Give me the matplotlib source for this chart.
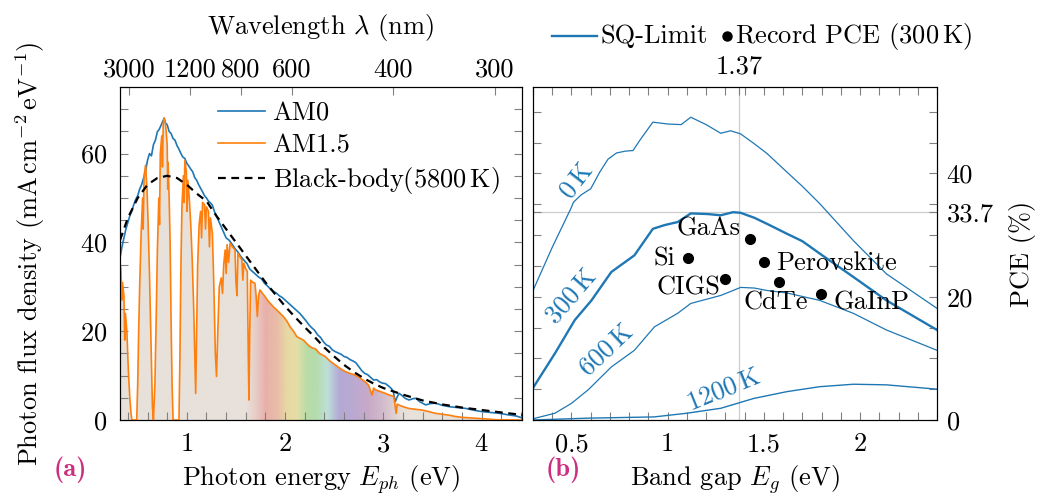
import numpy as np
import matplotlib
import matplotlib.pyplot as plt
from matplotlib.patches import Polygon
from matplotlib.lines import Line2D
from matplotlib.ticker import MultipleLocator, FixedLocator

plt.rcParams['font.family'] = 'cmr10'
plt.rcParams['mathtext.fontset'] = 'cm'
plt.rcParams['axes.unicode_minus'] = False
plt.rcParams['axes.formatter.use_mathtext'] = True
plt.rcParams['font.size'] = 19

blue = '#1f77b4'
orange = '#ff7f0e'
pink = '#cc2f7f'

# ---- panel (a): solar spectra, photon energy (eV) vs photon flux
am0_e = [0.32, 0.34, 0.36, 0.38, 0.40, 0.42, 0.44, 0.46, 0.48, 0.50, 0.52, 0.54, 0.56, 0.58,
         0.60, 0.62, 0.64, 0.66, 0.68, 0.70, 0.72, 0.74, 0.76, 0.77, 0.78, 0.80, 0.82, 0.84,
         0.86, 0.88, 0.90, 0.92, 0.94, 0.96, 0.98, 1.00, 1.02, 1.04, 1.06, 1.08, 1.10, 1.12,
         1.14, 1.16, 1.18, 1.20, 1.22, 1.24, 1.26, 1.28, 1.30, 1.32, 1.34, 1.36, 1.38, 1.40,
         1.43, 1.46, 1.49, 1.52, 1.55, 1.58, 1.61, 1.64, 1.67, 1.70, 1.73, 1.76, 1.79, 1.82,
         1.85, 1.88, 1.91, 1.94, 1.97, 2.00, 2.03, 2.06, 2.09, 2.12, 2.15, 2.18, 2.21, 2.24,
         2.27, 2.30, 2.33, 2.36, 2.39, 2.42, 2.45, 2.48, 2.51, 2.54, 2.57, 2.60, 2.63, 2.66,
         2.69, 2.72, 2.75, 2.78, 2.81, 2.84, 2.87, 2.90, 2.93, 2.96, 2.99, 3.02, 3.05, 3.08,
         3.10, 3.12, 3.14, 3.16, 3.19, 3.22, 3.26, 3.30, 3.33, 3.37, 3.43, 3.48, 3.53, 3.60,
         3.67, 3.75, 3.84, 3.92, 4.00, 4.09, 4.18, 4.26, 4.35, 4.41]
am0_v = [36.5, 39.0, 41.0, 43.0, 44.5, 46.0, 47.0, 48.5, 49.7, 50.5, 52.0, 53.0, 54.5, 56.0,
         58.5, 60.0, 59.5, 62.0, 63.0, 64.9, 65.5, 66.5, 67.5, 68.0, 67.0, 66.5, 65.0, 64.5,
         63.4, 63.0, 61.8, 61.0, 60.0, 59.2, 58.9, 57.8, 57.2, 56.5, 55.9, 54.6, 54.0, 53.0,
         52.2, 51.4, 50.5, 50.0, 49.3, 48.9, 48.4, 47.0, 46.0, 45.0, 44.0, 43.0, 42.0, 41.0,
         40.5, 39.6, 38.6, 37.8, 36.8, 36.0, 35.3, 34.0, 33.4, 32.8, 32.2, 31.8, 30.8, 30.2,
         29.5, 29.0, 28.6, 28.0, 27.6, 27.0, 26.4, 25.8, 25.2, 24.6, 24.0, 23.2, 22.4, 21.5,
         20.8, 20.2, 19.2, 18.6, 17.6, 16.9, 16.6, 15.8, 15.4, 15.1, 14.8, 14.3, 14.1, 13.6,
         13.3, 12.9, 12.0, 11.1, 10.5, 10.2, 9.6, 9.0, 9.1, 8.6, 8.3, 8.2, 7.7, 7.1,
         6.5, 4.1, 5.2, 6.0, 5.5, 4.9, 4.5, 4.8, 4.9, 4.1, 3.4, 3.7, 3.8, 3.3,
         3.0, 2.8, 2.6, 2.2, 1.9, 1.7, 1.5, 1.2, 0.9, 0.5]

am15_e = [0.316, 0.33, 0.338, 0.345, 0.36, 0.368, 0.375, 0.39, 0.40, 0.41, 0.42, 0.43, 0.44,
          0.49, 0.50, 0.51, 0.52, 0.535, 0.55, 0.556, 0.565, 0.58, 0.595, 0.605, 0.62, 0.635,
          0.65, 0.66, 0.675, 0.69, 0.70, 0.715, 0.722, 0.73, 0.745, 0.752, 0.76, 0.77, 0.78,
          0.79, 0.80, 0.806, 0.81, 0.82, 0.83, 0.84, 0.85, 0.86, 0.92, 0.93, 0.94, 0.95, 0.965,
          0.972, 0.98, 0.995, 1.002, 1.01, 1.025, 1.04, 1.055, 1.07, 1.08, 1.09, 1.10, 1.11,
          1.125, 1.14, 1.15, 1.16, 1.18, 1.19, 1.20, 1.22, 1.23, 1.24, 1.26, 1.275, 1.29,
          1.302, 1.315, 1.33, 1.35, 1.363, 1.375, 1.39, 1.40, 1.41, 1.425, 1.44, 1.465, 1.49,
          1.50, 1.51, 1.52, 1.54, 1.56, 1.57, 1.58, 1.60, 1.615, 1.625, 1.632, 1.64, 1.649,
          1.67, 1.693, 1.705, 1.717, 1.73, 1.744, 1.77, 1.795, 1.82, 1.846, 1.88, 1.914, 1.95,
          1.982, 2.02, 2.05, 2.085, 2.118, 2.15, 2.186, 2.22, 2.254, 2.28, 2.31, 2.35, 2.408,
          2.46, 2.51, 2.56, 2.612, 2.66, 2.714, 2.77, 2.816, 2.85, 2.884, 2.90, 2.918, 2.97,
          3.02, 3.06, 3.105, 3.12, 3.13, 3.14, 3.156, 3.20, 3.258, 3.33, 3.394, 3.46, 3.53,
          3.60, 3.666, 3.73, 3.80, 3.87, 3.939, 4.00, 4.07, 4.15, 4.41]
am15_v = [35.7, 34.0, 27.0, 31.0, 28.0, 18.0, 24.0, 20.0, 14.0, 9.0, 5.0, 2.0, 0.0,
          0.0, 8.0, 20.0, 30.0, 42.0, 50.0, 43.0, 55.0, 57.4, 52.0, 45.0, 33.0, 18.0,
          3.0, 0.0, 8.0, 25.0, 38.0, 50.0, 44.0, 60.0, 64.0, 57.0, 67.0, 68.0, 67.0,
          65.0, 62.0, 52.0, 58.0, 50.0, 40.0, 22.0, 8.0, 0.0, 0.0, 15.0, 35.0, 48.0, 55.0,
          49.0, 58.5, 56.0, 47.0, 54.0, 50.0, 44.0, 36.0, 25.0, 15.0, 6.0, 20.0, 35.0,
          44.0, 47.0, 41.0, 49.0, 48.5, 43.0, 48.0, 47.0, 39.0, 45.5, 42.0, 30.0, 15.0,
          9.8, 20.0, 30.0, 32.0, 28.5, 35.0, 38.3, 33.0, 39.5, 35.5, 39.8, 39.0, 38.3,
          31.0, 28.0, 37.5, 36.8, 36.0, 31.5, 35.3, 34.0, 33.5, 15.0, 4.5, 20.0, 31.5,
          31.0, 30.8, 28.0, 23.3, 28.0, 29.3, 28.5, 27.8, 27.0, 26.3, 25.5, 24.8, 24.0,
          23.3, 22.2, 21.0, 20.0, 18.8, 18.4, 18.0, 17.2, 16.5, 16.2, 16.0, 15.0, 14.3,
          13.2, 12.4, 11.6, 10.9, 10.5, 10.1, 9.3, 8.6, 7.8, 5.6, 7.2, 6.8, 6.4,
          6.0, 5.6, 5.3, 3.0, 1.5, 3.6, 3.4, 3.0, 2.6, 2.4, 2.25, 1.9, 1.5,
          1.3, 1.1, 0.8, 0.6, 0.5, 0.4, 0.3, 0.2, 0.05, 0.0]

bb_e = [0.32, 0.4, 0.5, 0.6, 0.7, 0.8, 0.9, 1.0, 1.1, 1.2, 1.3, 1.4, 1.5, 1.6, 1.7, 1.8,
        1.9, 2.0, 2.1, 2.2, 2.3, 2.4, 2.5, 2.6, 2.7, 2.8, 2.9, 3.0, 3.2, 3.4, 3.6, 3.8,
        4.0, 4.2, 4.41]
bb_v = [40.5, 45.5, 50.0, 53.0, 54.5, 55.0, 54.5, 53.0, 51.0, 49.3, 46.0, 43.0, 40.0, 37.0,
        34.0, 31.0, 28.3, 25.6, 23.2, 20.9, 18.7, 16.3, 14.3, 12.4, 10.8, 9.4, 8.2, 7.2,
        5.7, 4.4, 3.5, 2.8, 2.25, 1.7, 1.15]

wavelengths = [3000, 1200, 800, 600, 400, 300]

# colour band under the AM1.5 curve (visible range)
band_e = [1.60, 1.70, 1.80, 1.92, 2.02, 2.12, 2.22, 2.32, 2.43, 2.55, 2.68, 2.85, 3.00, 3.20]
band_c = ['#e7e1da', '#e8cdc6', '#e8b0aa', '#e8bca8', '#e8d8a4', '#e6dea6', '#b9dca6',
          '#b5dcae', '#bde0d8', '#b4aad6', '#b9a9d2', '#c8aac8', '#d3bccc', '#e7e1da']

# ---- panel (b): SQ limit, band gap (eV) vs PCE (%)
eg_0k = [0.30, 0.40, 0.50, 0.51, 0.55, 0.60, 0.647, 0.69, 0.734, 0.78, 0.82, 0.854, 0.923,
         1.00, 1.07, 1.12, 1.20, 1.276, 1.327, 1.379, 1.45, 1.517, 1.62, 1.70, 1.79, 1.965,
         2.137, 2.40]
pce_0k = [21.0, 28.0, 34.5, 35.3, 36.5, 37.5, 40.2, 42.3, 43.3, 43.6, 43.7, 45.3, 48.3,
          48.0, 47.9, 49.1, 47.9, 46.5, 46.9, 46.4, 44.8, 43.2, 40.2, 37.9, 35.1, 29.1,
          23.7, 18.1]
eg_300k = [0.30, 0.414, 0.517, 0.604, 0.707, 0.827, 0.923, 0.983, 1.052, 1.12, 1.207, 1.276,
           1.34, 1.379, 1.45, 1.517, 1.62, 1.70, 1.79, 1.965, 2.137, 2.40]
pce_300k = [5.2, 10.8, 16.2, 19.4, 24.0, 26.7, 31.0, 31.6, 32.1, 33.5, 33.4, 33.2,
            33.7, 33.6, 32.8, 31.8, 30.2, 29.0, 27.0, 23.2, 19.4, 14.6]
eg_600k = [0.30, 0.414, 0.50, 0.587, 0.707, 0.827, 0.931, 1.052, 1.12, 1.276, 1.34, 1.379,
           1.45, 1.517, 1.62, 1.79, 1.965, 2.137, 2.40]
pce_600k = [0.2, 1.1, 2.7, 4.9, 8.6, 11.3, 15.1, 17.3, 18.9, 20.2, 21.0, 21.5,
            21.4, 21.0, 20.6, 19.4, 17.3, 14.6, 11.3]
eg_1200k = [0.30, 0.587, 0.93, 1.10, 1.276, 1.448, 1.62, 1.79, 1.965, 2.137, 2.40]
pce_1200k = [0.0, 0.3, 0.5, 1.1, 1.9, 3.5, 4.6, 5.4, 5.8, 5.7, 5.0]

rec_names = ['Si', 'GaAs', 'Perovskite', 'CIGS', 'CdTe', 'GaInP']
rec_eg = [1.108, 1.427, 1.50, 1.297, 1.577, 1.798]
rec_pce = [26.3, 29.3, 25.7, 22.8, 22.3, 20.5]

W, H = 1039, 496
fig = plt.figure(figsize=(W / 100, H / 100), dpi=100)
ax1 = fig.add_axes([120 / W, 76 / H, 402 / W, 333 / H])
ax2 = fig.add_axes([533 / W, 76 / H, 404 / W, 333 / H])

# ---------------- (a)
xmin, xmax, ymax = 0.32, 4.41, 75
grid = np.linspace(xmin, xmax, 1000)
rgb = np.array([matplotlib.colors.to_rgb(c) for c in band_c])
img = np.stack([np.interp(grid, band_e, rgb[:, i]) for i in range(3)], axis=-1)[None, :, :]
im = ax1.imshow(img, extent=(xmin, xmax, 0, ymax), aspect='auto', origin='lower',
                zorder=1, interpolation='bilinear')
verts = np.column_stack([am15_e + [am15_e[-1], am15_e[0]], am15_v + [0, 0]])
poly = Polygon(verts, closed=True, facecolor='none', edgecolor='none', transform=ax1.transData)
ax1.add_patch(poly)
im.set_clip_path(poly)

ax1.plot(am0_e, am0_v, color=blue, lw=1.2, label='AM0', zorder=3)
ax1.plot(am15_e, am15_v, color=orange, lw=1.2, label='AM1.5', zorder=4)
ax1.plot(bb_e, bb_v, color='k', lw=1.6, ls=(0, (3.5, 2.5)), label=r'Black-body(5800$\,$K)', zorder=5)

ax1.set_xlim(xmin, xmax)
ax1.set_ylim(0, ymax)
ax1.xaxis.set_major_locator(FixedLocator([1, 2, 3, 4]))
ax1.xaxis.set_minor_locator(MultipleLocator(0.2))
ax1.yaxis.set_major_locator(FixedLocator([0, 20, 40, 60]))
ax1.yaxis.set_minor_locator(MultipleLocator(5))
ax1.tick_params(which='both', direction='in', length=6, width=0.8, color='0.5',
                right=True, top=False)
ax1.tick_params(axis='x', pad=9)
ax1.tick_params(axis='y', pad=9)
ax1.set_xlabel(r'Photon energy $E_{ph}$ (eV)', labelpad=5)
ax1.set_ylabel(r'Photon flux density $(\mathrm{mA\,cm^{-2}\,eV^{-1}})$', labelpad=24)

ax1t = ax1.twiny()
ax1t.set_xlim(xmin, xmax)
ax1t.set_xticks([1239.84 / w for w in wavelengths])
ax1t.set_xticklabels([str(w) for w in wavelengths])
ax1t.tick_params(direction='in', length=6, width=0.8, color='0.5', pad=4)
ax1t.set_xlabel(r'Wavelength $\lambda$ (nm)', labelpad=17)

ax1.legend(loc='upper left', bbox_to_anchor=(0.245, 0.955), frameon=False, borderpad=0,
           borderaxespad=0, handlelength=1.75, handletextpad=0.3, labelspacing=0.3)

# ---------------- (b)
ax2.axvline(1.37, color='0.8', lw=0.9, zorder=1)
ax2.axhline(33.7, color='0.8', lw=0.9, zorder=1)
ax2.plot(eg_0k, pce_0k, color=blue, lw=0.9)
ax2.plot(eg_300k, pce_300k, color=blue, lw=1.7)
ax2.plot(eg_600k, pce_600k, color=blue, lw=0.9)
ax2.plot(eg_1200k, pce_1200k, color=blue, lw=1.0)
ax2.plot(rec_eg, rec_pce, 'o', color='k', ms=7, zorder=5)

curve_labels = [('0$\\,$K', 0.524, 38.8, 52), ('300$\\,$K', 0.50, 20.0, 49),
                ('600$\\,$K', 0.68, 11.4, 43), ('1200$\\,$K', 1.29, 4.9, 22)]
for txt, ex, py, rot in curve_labels:
    ax2.text(ex, py, txt, color=blue, rotation=rot, ha='center', va='center',
             rotation_mode='anchor')

rec_label_pos = {'Si': (1.041, 26.1, 'right'), 'GaAs': (1.212, 31.0, 'center'),
                 'Perovskite': (1.565, 25.4, 'left'), 'CIGS': (1.108, 21.4, 'center'),
                 'CdTe': (1.564, 19.1, 'center'), 'GaInP': (1.86, 19.1, 'left')}
for name in rec_names:
    lx, ly, ha = rec_label_pos[name]
    ax2.text(lx, ly, name, ha=ha, va='center')

ax2.set_xlim(0.3, 2.4)
ax2.set_ylim(0, 54)
ax2.xaxis.set_major_locator(FixedLocator([0.5, 1, 1.5, 2]))
ax2.set_xticklabels(['0.5', '1', '1.5', '2'])
ax2.xaxis.set_minor_locator(MultipleLocator(0.1))
ax2.yaxis.set_major_locator(FixedLocator([0, 20, 33.7, 40]))
ax2.set_yticklabels(['0', '20', '33.7', '40'])
ax2.yaxis.set_minor_locator(MultipleLocator(5))
ax2.tick_params(which='both', direction='in', length=6, width=0.8, color='0.5',
                left=True, right=True, labelleft=False, labelright=True)
ax2.tick_params(axis='x', pad=9)
ax2.tick_params(axis='y', pad=7)
ax2.yaxis.set_label_position('right')
ax2.set_ylabel('PCE (%)', labelpad=11)
ax2.set_xlabel(r'Band gap $E_g$ (eV)', labelpad=5)

ax2t = ax2.twiny()
ax2t.set_xlim(0.3, 2.4)
ax2t.xaxis.set_major_locator(FixedLocator([1.37]))
ax2t.set_xticklabels(['1.37'])
ax2t.xaxis.set_minor_locator(MultipleLocator(0.1))
ax2t.tick_params(which='both', direction='in', length=6, width=0.8, color='0.5', pad=6)

# legend for (b), placed above the panel
ly = 1 - 36 / H
fig.add_artist(Line2D([552 / W, 597 / W], [ly, ly], color=blue, lw=1.7))
fig.text(600 / W, ly, 'SQ-Limit', va='center', ha='left')
fig.add_artist(Line2D([727 / W], [ly], marker='o', color='k', ms=6.5, ls='none'))
fig.text(735 / W, ly, r'Record PCE (300$\,$K)', va='center', ha='left')

fig.text(54 / W, 1 - 470 / H, '(a)', family='cmb10', color=pink, ha='left', va='center')
fig.text(546 / W, 1 - 470 / H, '(b)', family='cmb10', color=pink, ha='left', va='center')

fig.savefig('out.png', dpi=100)
